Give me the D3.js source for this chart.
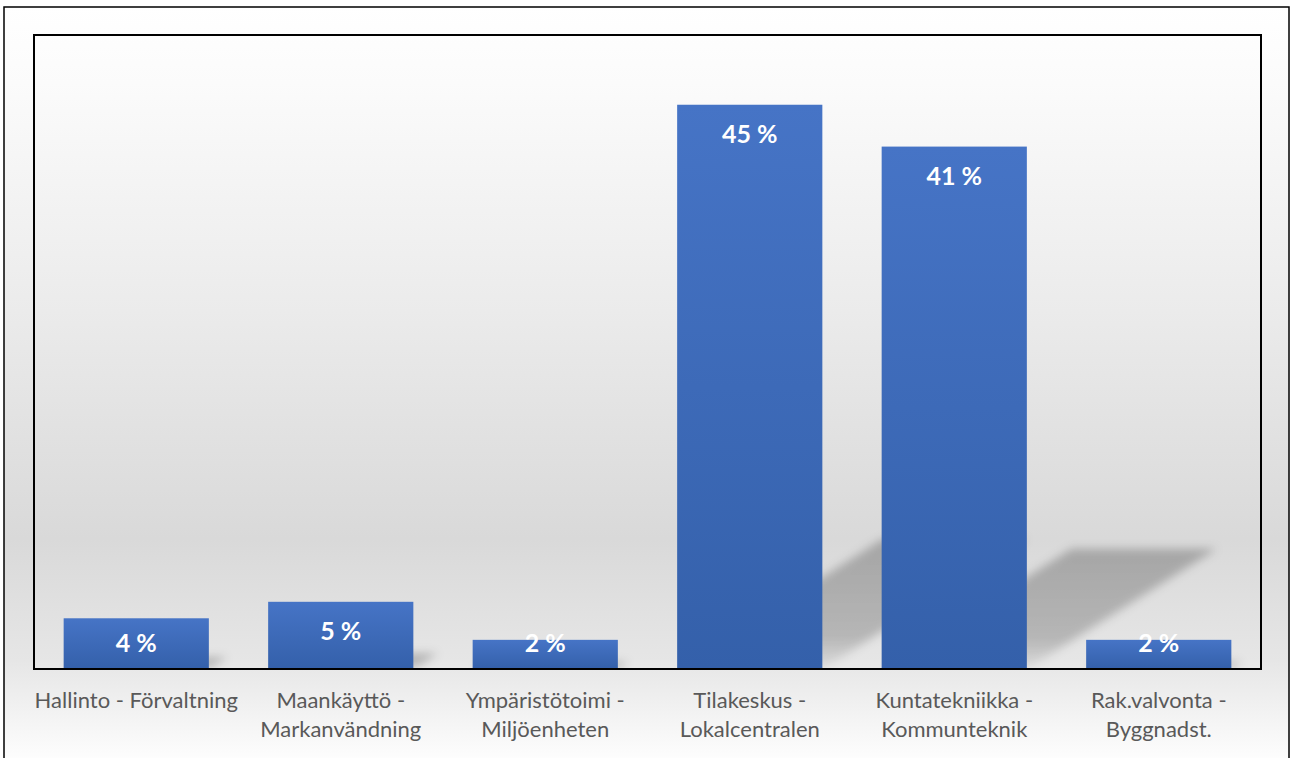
<!DOCTYPE html>
<html>
<head>
<meta charset="utf-8">
<script src="https://cdn.jsdelivr.net/npm/d3@7"></script>
<style>
  body { margin: 0; background: #fff; }
  svg { display: block; }
</style>
</head>
<body>
<div id="chart"></div>
<script>
// data
var categories = ["Hallinto - Förvaltning", "Maankäyttö -\nMarkanvändning", "Ympäristötoimi -\nMiljöenheten",
                  "Tilakeskus -\nLokalcentralen", "Kuntatekniikka -\nKommunteknik", "Rak.valvonta -\nByggnadst."]
var values = [4.0, 5.3, 2.3, 44.5, 41.2, 2.3]
var yDomain = [0, 50]

var W = 1291, H = 758
var plot = {left: 34, top: 35, right: 1261, bottom: 669}

var svg = d3.select("#chart").append("svg")
    .attr("width", W).attr("height", H)

var defs = svg.append("defs")

// chart background: white -> grey -> white
var bg = defs.append("linearGradient").attr("id", "bg")
    .attr("x1", 0).attr("y1", 0).attr("x2", 0).attr("y2", 1)
bg.selectAll("stop")
    .data([[0, "#ffffff"], [0.1, "#fbfbfb"], [0.4, "#ebebeb"], [0.7, "#d9d9d9"], [0.86, "#e6e6e6"], [1, "#ffffff"]])
    .enter().append("stop")
    .attr("offset", d => d[0]).attr("stop-color", d => d[1])

var barGrad = defs.append("linearGradient").attr("id", "barGrad")
    .attr("x1", 0).attr("y1", 0).attr("x2", 0).attr("y2", 1)
barGrad.append("stop").attr("offset", 0).attr("stop-color", "#4674c6")
barGrad.append("stop").attr("offset", 1).attr("stop-color", "#3460aa")

var shGrad = defs.append("linearGradient").attr("id", "shGrad")
    .attr("x1", 0).attr("y1", 0).attr("x2", 0).attr("y2", 1)
shGrad.append("stop").attr("offset", 0).attr("stop-color", "#000").attr("stop-opacity", 0.24)
shGrad.append("stop").attr("offset", 0.75).attr("stop-color", "#000").attr("stop-opacity", 0.2)
shGrad.append("stop").attr("offset", 1).attr("stop-color", "#000").attr("stop-opacity", 0.04)

defs.append("filter").attr("id", "blur")
    .attr("x", "-20%").attr("y", "-20%").attr("width", "140%").attr("height", "140%")
    .append("feGaussianBlur").attr("stdDeviation", 5)

defs.append("clipPath").attr("id", "plotClip")
    .append("rect")
    .attr("x", plot.left).attr("y", plot.top)
    .attr("width", plot.right - plot.left).attr("height", plot.bottom - plot.top)

// outer frame
svg.append("rect")
    .attr("x", 4).attr("y", 7).attr("width", 1285).attr("height", 760)
    .attr("fill", "url(#bg)")
    .attr("stroke", "#000").attr("stroke-width", 1.5)

var x = d3.scaleBand()
    .domain(categories)
    .range([plot.left, plot.right])
    .paddingInner(0.29)
    .paddingOuter(0.145)

var y = d3.scaleLinear()
    .domain(yDomain)
    .range([plot.bottom, plot.top])

// perspective shadows (diagonal, upper right)
var k = 0.23, slant = 1.58
svg.append("g")
    .attr("clip-path", "url(#plotClip)")
  .append("g")
    .attr("filter", "url(#blur)")
    .selectAll("path")
    .data(values)
    .enter().append("path")
    .attr("fill", "url(#shGrad)")
    .attr("d", (d, i) => {
        let x0 = x(categories[i]), x1 = x0 + x.bandwidth()
        let h = (y(0) - y(d)) * k
        let dx = h * slant
        return `M${x0},${y(0)}L${x1},${y(0)}L${x1 + dx},${y(0) - h}L${x0 + dx},${y(0) - h}Z`
    })

// bars
svg.append("g")
    .selectAll("rect")
    .data(values)
    .enter().append("rect")
    .attr("x", (d, i) => x(categories[i]))
    .attr("y", d => y(d))
    .attr("width", x.bandwidth())
    .attr("height", d => y(0) - y(d))
    .attr("fill", "url(#barGrad)")

// value labels (inside end, kept inside the plot)
svg.append("g")
    .selectAll("text")
    .data(values)
    .enter().append("text")
    .attr("x", (d, i) => x(categories[i]) + x.bandwidth() / 2)
    .attr("y", d => Math.min(y(d) + 38, plot.bottom - 17))
    .attr("text-anchor", "middle")
    .attr("font-family", "Lato, 'Open Sans', sans-serif")
    .attr("font-weight", "bold")
    .attr("font-size", 25)
    .attr("fill", "#fff")
    .text(d => Math.round(d) + " %")

// plot frame
svg.append("rect")
    .attr("x", plot.left).attr("y", plot.top)
    .attr("width", plot.right - plot.left).attr("height", plot.bottom - plot.top)
    .attr("fill", "none")
    .attr("stroke", "#000").attr("stroke-width", 2)

// category axis
var xAxis = d3.axisBottom(x).tickSize(0).tickPadding(0)
var xAxisGroup = svg.append("g")
    .attr("transform", `translate(0, ${plot.bottom})`)
    .call(xAxis)
xAxisGroup.select(".domain").remove()
xAxisGroup.selectAll("text")
    .attr("font-family", "Lato, 'Open Sans', sans-serif")
    .attr("font-size", 22)
    .attr("fill", "#595959")
    .attr("dy", null)
    .attr("y", 0)
    .each(function(d) {
        let t = d3.select(this)
        let lines = d.split("\n")
        t.text(null)
        lines.forEach((l, j) => {
            t.append("tspan").attr("x", 0).attr("y", 39 + j * 29).text(l)
        })
    })
</script>
</body>
</html>
